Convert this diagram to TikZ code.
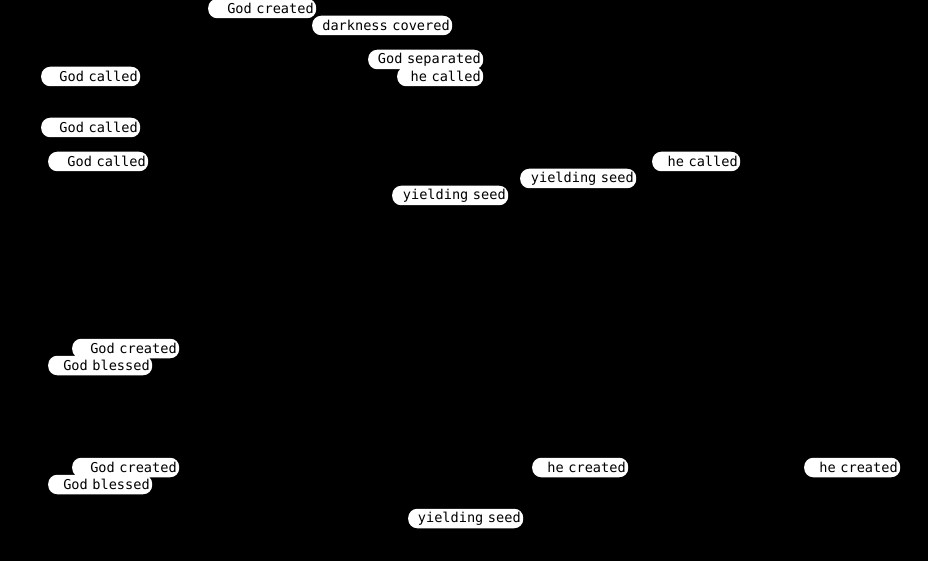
\documentclass[tikz,border=0pt]{standalone}
\usepackage{fontspec}
\newfontfamily\lblfont{DejaVu Sans Mono}
\begin{document}
\begin{tikzpicture}[x=1pt,y=-1pt,
  lbl/.style={fill=white, text=black, rounded corners=9pt, minimum height=19.5pt,
    inner xsep=2.5pt, inner ysep=0pt, align=right, anchor=west,
    font=\lblfont\fontsize{13.6pt}{15pt}\selectfont}]
\fill[black] (0,0) rectangle (928,561);
\useasboundingbox (0,0) rectangle (928,561);
% top cluster
\node[lbl, text width=103pt] (a1) at (208,8.5) {God created};
\node[lbl, text width=135pt] (a2) at (312,25.5) {darkness covered};
\node[lbl, text width=110pt] (a3) at (368,59.5) {God separated};
\node[lbl, text width=81pt]  (a4) at (397,76.5) {he called};
% left column
\node[lbl, text width=94pt]  (b1) at (41,76.5) {God called};
\node[lbl, text width=94pt]  (b2) at (41,127.5) {God called};
\node[lbl, text width=95pt]  (b3) at (48,161.5) {God called};
% middle/right
\node[lbl, text width=83pt]  (c1) at (652,161.5) {he called};
\node[lbl, text width=111pt] (c2) at (520,178.5) {yielding seed};
\node[lbl, text width=111pt] (c3) at (392,195.5) {yielding seed};
% lower left
\node[lbl, text width=102pt] (d1) at (72,348.5) {God created};
\node[lbl, text width=99pt]  (d2) at (48,365.5) {God blessed};
\node[lbl, text width=102pt] (d3) at (72,467.5) {God created};
\node[lbl, text width=99pt]  (d4) at (48,484.5) {God blessed};
% lower right
\node[lbl, text width=91pt]  (e1) at (532,467.5) {he created};
\node[lbl, text width=91pt]  (e2) at (804,467.5) {he created};
\node[lbl, text width=110pt] (e3) at (408,518.5) {yielding seed};
\end{tikzpicture}
\end{document}
